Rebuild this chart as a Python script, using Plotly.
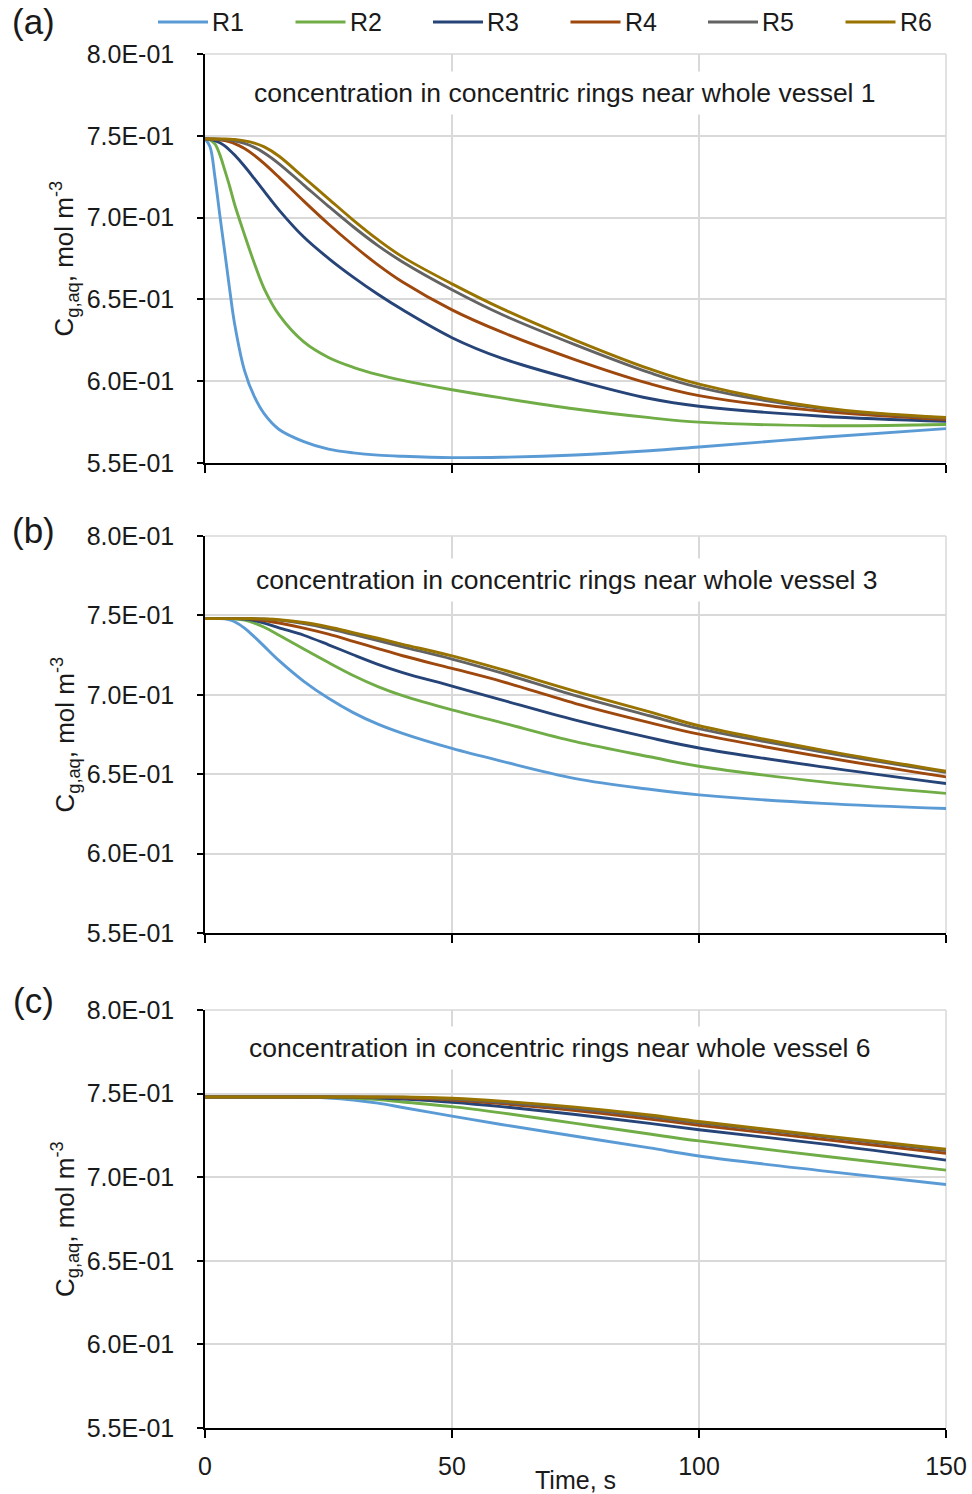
import plotly.graph_objects as go

# ---- data -------------------------------------------------------------
TIME_S = [0, 1, 2, 3, 4, 5, 6, 8, 10, 12, 15, 20, 25, 30, 35, 40, 50, 60, 75, 90, 100, 125, 150]

SERIES = ["R1", "R2", "R3", "R4", "R5", "R6"]
COLORS = ["#5B9BD5", "#70AD47", "#264478", "#9E480E", "#636363", "#997300"]

# whole vessel 1
V1_R1 = [0.748, 0.7435, 0.725, 0.7015, 0.679, 0.656, 0.635, 0.6065, 0.5905, 0.580, 0.5705, 0.5631,
         0.5585, 0.5562, 0.5548, 0.5541, 0.5533, 0.5535, 0.5549, 0.5575, 0.5598, 0.5657, 0.5710]
V1_R2 = [0.748, 0.7475, 0.745, 0.7385, 0.729, 0.719, 0.708, 0.6895, 0.672, 0.6565, 0.6405, 0.624,
         0.6145, 0.6085, 0.604, 0.6005, 0.5948, 0.5898, 0.583, 0.5777, 0.575, 0.5728, 0.5735]
V1_R3 = [0.748, 0.7478, 0.7471, 0.7458, 0.7438, 0.7412, 0.7382, 0.7314, 0.7238, 0.716, 0.7046, 0.6881,
         0.6751, 0.6636, 0.6531, 0.6436, 0.6266, 0.6141, 0.6007, 0.5894, 0.5847, 0.5786, 0.5755]
V1_R4 = [0.748, 0.748, 0.7479, 0.7476, 0.7471, 0.7463, 0.7452, 0.7422, 0.738, 0.733, 0.7246, 0.7101,
         0.6961, 0.6831, 0.6711, 0.6606, 0.6436, 0.6301, 0.6131, 0.5985, 0.5912, 0.5816, 0.5766]
V1_R5 = [0.748, 0.748, 0.748, 0.7479, 0.7477, 0.7474, 0.7469, 0.7453, 0.7429, 0.7395, 0.7329, 0.7199,
         0.7069, 0.6944, 0.6829, 0.6729, 0.6559, 0.6409, 0.6222, 0.6052, 0.5962, 0.5832, 0.5774]
V1_R6 = [0.748, 0.748, 0.748, 0.748, 0.748, 0.7479, 0.7477, 0.7469, 0.7455, 0.7432, 0.7375, 0.7245,
         0.7115, 0.6985, 0.6865, 0.676, 0.6595, 0.6445, 0.625, 0.6075, 0.5982, 0.5838, 0.5778]

# whole vessel 3
V3_R1 = [0.748, 0.748, 0.748, 0.748, 0.7478, 0.7472, 0.746, 0.742, 0.7365, 0.7305, 0.7215, 0.7085,
         0.6978, 0.6888, 0.6815, 0.6757, 0.6662, 0.6582, 0.6472, 0.6405, 0.637, 0.6316, 0.6284]
V3_R2 = [0.748, 0.748, 0.748, 0.748, 0.748, 0.748, 0.7478, 0.747, 0.7452, 0.7425, 0.7375, 0.7288,
         0.7203, 0.7122, 0.7052, 0.6995, 0.6905, 0.6825, 0.6705, 0.661, 0.655, 0.6452, 0.6379]
V3_R3 = [0.748, 0.748, 0.748, 0.748, 0.748, 0.748, 0.748, 0.7477, 0.7468, 0.7452, 0.7422, 0.7375,
         0.7315, 0.7252, 0.7192, 0.714, 0.7055, 0.6968, 0.684, 0.673, 0.6665, 0.6546, 0.6441]
V3_R4 = [0.748, 0.748, 0.748, 0.748, 0.748, 0.748, 0.748, 0.748, 0.7476, 0.7468, 0.7452, 0.742,
         0.7382, 0.7337, 0.7291, 0.7246, 0.7166, 0.7085, 0.6945, 0.6825, 0.6752, 0.6609, 0.6483]
V3_R5 = [0.748, 0.748, 0.748, 0.748, 0.748, 0.748, 0.748, 0.748, 0.748, 0.7477, 0.747, 0.7448,
         0.7417, 0.738, 0.7342, 0.7302, 0.7225, 0.7138, 0.6995, 0.6868, 0.6787, 0.664, 0.6512]
V3_R6 = [0.748, 0.748, 0.748, 0.748, 0.748, 0.748, 0.748, 0.748, 0.748, 0.7478, 0.7473, 0.7455,
         0.7427, 0.7392, 0.7356, 0.7318, 0.7245, 0.716, 0.7022, 0.6893, 0.6805, 0.6652, 0.6518]

# whole vessel 6
V6_R1 = [0.748, 0.748, 0.748, 0.748, 0.748, 0.748, 0.748, 0.748, 0.748, 0.748, 0.748, 0.7478,
         0.7474, 0.7462, 0.7443, 0.7417, 0.7365, 0.7315, 0.7245, 0.7175, 0.7127, 0.7038, 0.6956]
V6_R2 = [0.748, 0.748, 0.748, 0.748, 0.748, 0.748, 0.748, 0.748, 0.748, 0.748, 0.748, 0.748,
         0.7478, 0.7473, 0.7464, 0.745, 0.7422, 0.7385, 0.7322, 0.7258, 0.7217, 0.7127, 0.7042]
V6_R3 = [0.748, 0.748, 0.748, 0.748, 0.748, 0.748, 0.748, 0.748, 0.748, 0.748, 0.748, 0.748,
         0.748, 0.7478, 0.7474, 0.7467, 0.7448, 0.7422, 0.7375, 0.7322, 0.7284, 0.7199, 0.7102]
V6_R4 = [0.748, 0.748, 0.748, 0.748, 0.748, 0.748, 0.748, 0.748, 0.748, 0.748, 0.748, 0.748,
         0.748, 0.748, 0.7478, 0.7475, 0.7462, 0.744, 0.7398, 0.7348, 0.7311, 0.7227, 0.7143]
V6_R5 = [0.748, 0.748, 0.748, 0.748, 0.748, 0.748, 0.748, 0.748, 0.748, 0.748, 0.748, 0.748,
         0.748, 0.748, 0.748, 0.7479, 0.7468, 0.7448, 0.741, 0.7362, 0.7325, 0.7243, 0.7159]
V6_R6 = [0.748, 0.748, 0.748, 0.748, 0.748, 0.748, 0.748, 0.748, 0.748, 0.748, 0.748, 0.748,
         0.748, 0.748, 0.748, 0.748, 0.7472, 0.7455, 0.7419, 0.7372, 0.7333, 0.7249, 0.7167]

PANEL_DATA = [
    [V1_R1, V1_R2, V1_R3, V1_R4, V1_R5, V1_R6],
    [V3_R1, V3_R2, V3_R3, V3_R4, V3_R5, V3_R6],
    [V6_R1, V6_R2, V6_R3, V6_R4, V6_R5, V6_R6],
]
PANEL_TITLES = [
    "concentration in concentric rings near whole vessel 1",
    "concentration in concentric rings near whole vessel 3",
    "concentration in concentric rings near whole vessel 6",
]
PANEL_LETTERS = ["(a)", "(b)", "(c)"]

X_TICKS = [0, 50, 100, 150]
X_TICK_LABELS = ["0", "50", "100", "150"]
Y_TICKS = [0.55, 0.60, 0.65, 0.70, 0.75, 0.80]
Y_TICK_LABELS = ["5.5E-01", "6.0E-01", "6.5E-01", "7.0E-01", "7.5E-01", "8.0E-01"]
Y_TITLE = "C<sub>g,aq</sub>, mol m<sup>-3</sup>"
X_TITLE = "Time, s"

# ---- layout helpers (pixel -> paper) -----------------------------------
W, H = 972, 1494
FONT = "Liberation Sans Narrow, Arial Narrow, Liberation Sans, sans-serif"
TEXT = "#1a1a1a"
GRID = "#d9d9d9"


def fx(px):
    return px / W


def fy(py):
    return 1 - py / H


PLOT_L, PLOT_R = 205, 946
PANEL_Y = [(54, 463), (536, 933), (1010, 1428)]
TITLE_POS = [(565, 93), (567, 580), (560, 1048)]
LETTER_Y = [22, 530, 1000]

fig = go.Figure()
annotations = []
shapes = []

for k, (series_vals, (top, bottom)) in enumerate(zip(PANEL_DATA, PANEL_Y)):
    sfx = "" if k == 0 else str(k + 1)
    xa, ya = "x" + sfx, "y" + sfx
    for name, color, vals in zip(SERIES, COLORS, series_vals):
        fig.add_trace(go.Scatter(
            x=TIME_S, y=vals, name=name, mode="lines",
            line=dict(color=color, width=2.9, shape="spline", smoothing=1.0),
            xaxis=xa, yaxis=ya, showlegend=False,
            hovertemplate=name + ": %{y:.3e}<extra></extra>",
        ))

    last = k == len(PANEL_DATA) - 1
    fig.layout["xaxis" + sfx] = dict(
        domain=[fx(PLOT_L), fx(PLOT_R)], anchor=ya, range=[0, 150],
        tickmode="array", tickvals=X_TICKS, ticktext=X_TICK_LABELS,
        showticklabels=last, ticks="outside", ticklen=8, tickwidth=1.5,
        tickcolor="black", showline=True, linecolor="black", linewidth=1.5,
        showgrid=True, gridcolor=GRID, gridwidth=1.5, zeroline=False,
        automargin=False, ticklabelstandoff=7,
        tickfont=dict(family=FONT, size=25, color=TEXT),
    )
    fig.layout["yaxis" + sfx] = dict(
        domain=[fy(bottom), fy(top)], anchor=xa, range=[0.55, 0.80],
        tickmode="array", tickvals=Y_TICKS, ticktext=Y_TICK_LABELS,
        ticks="outside", ticklen=6, tickwidth=1.5, tickcolor="black",
        showline=True, linecolor="black", linewidth=1.5,
        showgrid=True, gridcolor=GRID, gridwidth=1.5, zeroline=False,
        automargin=False, ticklabelstandoff=18,
        tickfont=dict(family=FONT, size=25, color=TEXT),
    )

    # gridlines along the top (0.80) and right (150 s) edges of the plot area
    shapes.append(dict(type="line", xref=xa + " domain", yref=ya + " domain",
                       x0=0, x1=1, y0=1, y1=1, layer="below",
                       line=dict(color=GRID, width=1.5)))
    shapes.append(dict(type="line", xref=xa + " domain", yref=ya + " domain",
                       x0=1, x1=1, y0=0, y1=1, layer="below",
                       line=dict(color=GRID, width=1.5)))

    tx, ty = TITLE_POS[k]
    annotations.append(dict(
        text=PANEL_TITLES[k], x=fx(tx), y=fy(ty), xref="paper", yref="paper",
        xanchor="center", yanchor="middle", showarrow=False,
        bgcolor="white", borderpad=6,
        font=dict(family=FONT, size=26.5, color=TEXT),
    ))
    annotations.append(dict(
        text=PANEL_LETTERS[k], x=fx(33), y=fy(LETTER_Y[k]), xref="paper", yref="paper",
        xanchor="center", yanchor="middle", showarrow=False,
        font=dict(family=FONT, size=35, color=TEXT),
    ))
    annotations.append(dict(
        text=Y_TITLE, x=fx(65), y=fy((top + bottom) / 2), xref="paper", yref="paper",
        xanchor="center", yanchor="middle", showarrow=False, textangle=-90,
        font=dict(family=FONT, size=26, color=TEXT),
    ))

annotations.append(dict(
    text=X_TITLE, x=fx(575), y=fy(1480), xref="paper", yref="paper",
    xanchor="center", yanchor="middle", showarrow=False,
    font=dict(family=FONT, size=25, color=TEXT),
))

# legend row across the top
LEG_X0, LEG_STEP, LEG_Y, LEG_LEN = 158, 137.5, 22, 50
for i, (name, color) in enumerate(zip(SERIES, COLORS)):
    x0 = LEG_X0 + i * LEG_STEP
    shapes.append(dict(
        type="line", xref="paper", yref="paper",
        x0=fx(x0), x1=fx(x0 + LEG_LEN), y0=fy(LEG_Y), y1=fy(LEG_Y),
        line=dict(color=color, width=2.9),
    ))
    annotations.append(dict(
        text=name, x=fx(x0 + LEG_LEN + 2), y=fy(LEG_Y), xref="paper", yref="paper",
        xanchor="left", yanchor="middle", showarrow=False,
        font=dict(family=FONT, size=25, color=TEXT),
    ))

fig.update_layout(
    width=W, height=H, margin=dict(l=0, r=0, t=0, b=0, pad=0),
    paper_bgcolor="white", plot_bgcolor="white",
    annotations=annotations, shapes=shapes, showlegend=False,
    font=dict(family=FONT, size=25, color=TEXT),
)

fig.write_html("out.html")
